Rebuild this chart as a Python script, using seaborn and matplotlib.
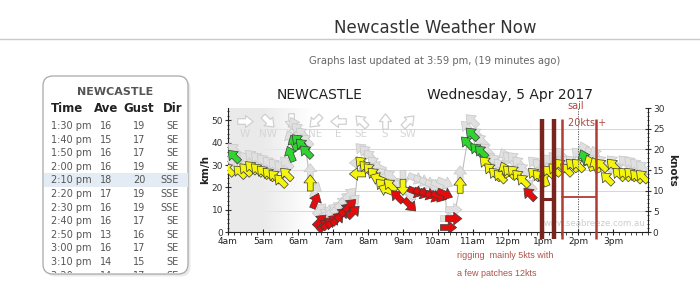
import numpy as np
import pandas as pd
import matplotlib
matplotlib.use("Agg")
import matplotlib.pyplot as plt
import seaborn as sns
from matplotlib.path import Path
from matplotlib.patches import FancyBboxPatch, Rectangle
from matplotlib.transforms import Affine2D, Bbox, TransformedBbox
from matplotlib.lines import Line2D

sns.set_theme(style="white")
plt.rcParams['font.family'] = ['DejaVu Sans']

# ---------------- data ----------------
times = ["04:00", "04:10", "04:20", "04:30", "04:40", "04:50", "05:00", "05:10", "05:20", "05:30", "05:40",
         "05:47", "05:53", "06:00", "06:07", "06:14", "06:21", "06:30", "06:38", "06:45", "06:52", "07:00",
         "07:08", "07:15", "07:22", "07:29", "07:35", "07:42", "07:49", "07:56", "08:03", "08:10", "08:17",
         "08:24", "08:31", "08:38", "08:50", "09:00", "09:12", "09:22", "09:32", "09:42", "09:52", "10:02",
         "10:12", "10:18", "10:27", "10:38", "10:50", "10:58", "11:06", "11:14", "11:22", "11:30", "11:38",
         "11:46", "11:54", "12:02", "12:10", "12:18", "12:26", "12:37", "12:45", "12:53", "13:02", "13:10",
         "13:20", "13:30", "13:40", "13:50", "14:00", "14:10", "14:20", "14:30", "14:40", "14:50", "15:00",
         "15:10", "15:20", "15:30", "15:40", "15:50"]
avg_kmh = [28, 34, 27, 28, 29, 28, 27, 26, 25, 23, 26,
           35, 40, 41, 39, 36, 22, 14, 5, 3, 4, 5,
           6, 8, 10, 12, 9, 26, 31, 29, 28, 26, 24,
           21, 19, 21, 16, 20, 12, 18, 17.5, 17, 16, 16,
           17, 2, 6, 21, 40, 44, 37, 36, 31, 28, 26,
           25, 28, 27, 27, 25, 23, 17, 26, 25, 24, 27,
           28, 30, 28, 30, 30, 33.5, 31, 30, 30, 24, 30,
           26, 26, 26, 25, 25]
gust_kmh = [33, 37, 33, 33, 34, 33, 32, 31, 30, 29, 31,
            42, 48, 46, 44, 41, 27, 19, 10, 8, 9, 10,
            11, 13, 15, 17, 14, 31, 37, 36, 34, 31, 29,
            26, 24, 25, 21, 24, 17, 24, 23, 22, 21, 21,
            22, 6, 10, 26, 47, 50, 44, 41, 37, 33, 32,
            30, 34, 33, 33, 31, 28, 21, 31, 30, 29, 32,
            33, 35, 31.5, 31.5, 35, 37, 35, 35, 31.5, 29.5, 31.5,
            28, 31.5, 31, 30, 29]
direction = ["SE", "SE", "SE", "SE", "SE", "SE", "SE", "SE", "SE", "SE", "SE",
             "SSE", "SSE", "SE", "SE", "SE", "S", "SSW", "SW", "SW", "SW", "SW",
             "SW", "SW", "SW", "SW", "SW", "E", "SE", "SE", "SE", "SE", "ESE",
             "SE", "ESE", "SE", "SE", "N", "NW", "WNW", "WNW", "WNW", "WNW", "WNW",
             "WNW", "W", "W", "S", "SE", "SE", "SE", "SE", "SE", "SE", "SE",
             "SE", "SSE", "SE", "SE", "SE", "SE", "SE", "SE", "SE", "SSE", "SE",
             "SE", "SE", "SE", "SE", "SE", "SSE", "SSE", "SSE", "SE", "SE", "SE",
             "SE", "SE", "SE", "SE", "SE"]

hour_ticks = [4, 5, 6, 7, 8, 9, 10, 11, 12, 13, 14, 15]
hour_labels = ["4am", "5am", "6am", "7am", "8am", "9am", "10am", "11am", "12pm", "1pm", "2pm", "3pm"]
kmh_ticks = [0, 10, 20, 30, 40, 50]
knot_ticks = [0, 5, 10, 15, 20, 25, 30]

table_time = ["1:30 pm", "1:40 pm", "1:50 pm", "2:00 pm", "2:10 pm", "2:20 pm", "2:30 pm", "2:40 pm",
              "2:50 pm", "3:00 pm", "3:10 pm", "3:20 pm"]
table_ave = [16, 15, 16, 16, 18, 17, 16, 16, 13, 16, 14, 14]
table_gust = [19, 17, 17, 19, 20, 19, 19, 17, 16, 17, 15, 17]
table_dir = ["SE", "SE", "SE", "SE", "SSE", "SSE", "SSE", "SE", "SE", "SE", "SE", "SE"]

compass_labels = ["W", "NW", "N", "NE", "E", "SE", "S", "SW"]

# annotation positions (hours)
sail_lines_thick = [12.96, 13.31]
sail_lines_thin = [13.53, 14.51]

# ---------------- helpers ----------------
points16 = ["N", "NNE", "NE", "ENE", "E", "ESE", "SE", "SSE", "S", "SSW", "SW", "WSW", "W", "WNW", "NW", "NNW"]
bearing = {p: i * 22.5 for i, p in enumerate(points16)}


def arrow_angle(d):
    return -90.0 - bearing[d]


def arrow_path(angle):
    base = np.array([(-1.0, -0.36), (0.0, -0.36), (0.0, -0.78), (1.0, 0.0),
                     (0.0, 0.78), (0.0, 0.36), (-1.0, 0.36), (-1.0, -0.36)])
    rot = Affine2D().rotate_deg(angle).transform(base)
    verts = np.vstack([[1.1, 1.1], [-1.1, -1.1], rot])
    codes = [Path.MOVETO, Path.MOVETO, Path.MOVETO] + [Path.LINETO] * 6 + [Path.CLOSEPOLY]
    return Path(verts, codes)


def to_hours(s):
    h, m = s.split(":")
    return int(h) + int(m) / 60.0


KT = 1.852
df = pd.DataFrame({"t": [to_hours(s) for s in times], "avg": avg_kmh, "gust": gust_kmh, "dir": direction})
df["band"] = np.where(df["avg"] < 18.5, "red", np.where(df["avg"] >= 33, "green", "yellow"))
markers = {d: arrow_path(arrow_angle(d)) for d in df["dir"].unique()}
palette = {"red": "#e30b0b", "yellow": "#f4f40c", "green": "#2fd42f"}
MS = 165

W, H = 700, 288
fig = plt.figure(figsize=(7.0, 2.88), dpi=100)
fig.patch.set_facecolor("white")


def fx(px):
    return px / W


def fy(py):
    return 1 - py / H


# ---------------- page header ----------------
fig.text(fx(435), fy(28), "Newcastle Weather Now", fontsize=12, color="#333333", ha="center", va="center")
fig.add_artist(Line2D([0, 1], [fy(39), fy(39)], color="#c3cbcb", lw=1.0))
fig.text(fx(435), fy(61), "Graphs last updated at 3:59 pm, (19 minutes ago)", fontsize=7.2,
         color="#666666", ha="center", va="center")

# ---------------- table ----------------
shadow = FancyBboxPatch((fx(45.5), fy(276.5)), fx(188 - 43), (274 - 76) / H,
                        boxstyle="round,pad=0,rounding_size=0.014", mutation_aspect=W / H,
                        transform=fig.transFigure, facecolor="#d9d9d9", edgecolor="none", alpha=0.55)
fig.add_artist(shadow)
box = FancyBboxPatch((fx(43), fy(274)), fx(188 - 43), (274 - 76) / H,
                     boxstyle="round,pad=0,rounding_size=0.014", mutation_aspect=W / H,
                     transform=fig.transFigure, facecolor="white", edgecolor="#a8a8a8", lw=0.9)
fig.add_artist(box)
hl = Rectangle((fx(43.5), fy(186.5)), fx(188 - 44), 13.5 / H, transform=fig.transFigure,
               facecolor="#e3ebf4", edgecolor="none")
fig.add_artist(hl)
clip_bb = TransformedBbox(Bbox([[fx(43), fy(272.5)], [fx(188), fy(76)]]), fig.transFigure)
fig.text(fx(115), fy(92), "NEWCASTLE", fontsize=8, fontweight="bold", color="#555555", ha="center", va="center")
for xx, lab, ha in [(51, "Time", "left"), (106, "Ave", "center"), (139, "Gust", "center"), (173, "Dir", "center")]:
    fig.text(fx(xx), fy(108.5), lab, fontsize=8.5, fontweight="bold", color="#222222", ha=ha, va="center")
for i in range(len(table_time)):
    yy = fy(126 + 13.6 * i)
    row = [fig.text(fx(51), yy, table_time[i], fontsize=7, color="#555555", ha="left", va="center"),
           fig.text(fx(106), yy, str(table_ave[i]), fontsize=7, color="#555555", ha="center", va="center"),
           fig.text(fx(139), yy, str(table_gust[i]), fontsize=7, color="#555555", ha="center", va="center"),
           fig.text(fx(179), yy, table_dir[i], fontsize=7, color="#555555", ha="right", va="center")]
    for tx in row:
        tx.set_clip_box(clip_bb)
        tx.set_clip_on(True)

# ---------------- chart ----------------
ax = fig.add_axes([fx(228), 56 / H, fx(420), 124 / H])
ax2 = ax.twinx()
ax.set_zorder(2)
ax.patch.set_visible(False)
ax2.set_zorder(1)
ax2.patch.set_facecolor("white")

ax.set_xlim(4, 16)
ax.set_ylim(0, 30 * KT)
ax2.set_ylim(0, 30)

# night shading gradient
grad = np.ones((1, 256, 4))
xs = np.linspace(0, 1, 256)
grad[0, :, :3] = 0.92
grad[0, :, 3] = np.clip((1 - xs) / 0.6, 0, 1)
ax.imshow(grad, extent=(4, 6.4, 0, 30 * KT), aspect="auto", zorder=0, interpolation="bilinear")

# grid on knots
for k in knot_ticks[1:-1]:
    ax2.axhline(k, color="#d6d6d6", lw=0.7, zorder=0)

# compass legend
for i, lab in enumerate(compass_labels):
    xa = 0.040 + i * 0.0555
    ax.scatter([xa], [0.895], marker=arrow_path(arrow_angle(lab)), s=150, facecolor="white",
               edgecolor="#d0d0d0", linewidths=0.9, transform=ax.transAxes, zorder=1)
    ax.text(xa, 0.79, lab, transform=ax.transAxes, fontsize=7.5, color="#d6d6d6", ha="center", va="center", zorder=1)

# connecting line
sns.lineplot(data=df, x="t", y="avg", color="#bdbdbd", lw=0.8, ax=ax, zorder=2, legend=False)
# gust shadows
sns.scatterplot(data=df, x="t", y="gust", style="dir", markers=markers, color="#e0e0e0",
                edgecolor="#c6c6c6", linewidth=0.5, s=MS, ax=ax, legend=False, zorder=3)
# average arrows
sns.scatterplot(data=df, x="t", y="avg", hue="band", palette=palette, style="dir", markers=markers,
                edgecolor="#3a3a3a", linewidth=0.5, s=MS, ax=ax, legend=False, zorder=4)

ax.text(13.03, 4.0, "www.seabreeze.com.au", fontsize=6.2, color="#cdcdcd", va="center", ha="left", zorder=1)

# axes styling
ax.set_xticks(hour_ticks)
ax.set_xticklabels(hour_labels)
ax.set_xticks(np.arange(4, 16.01, 1 / 6), minor=True)
ax.set_yticks(kmh_ticks)
ax.set_yticks(np.arange(0, 55, 2), minor=True)
ax2.set_yticks(knot_ticks)
ax2.set_yticks(np.arange(0, 30.1, 1), minor=True)
ax.set_xlabel("")
ax.set_ylabel("km/h", fontsize=7.5, fontweight="bold", color="#222222", labelpad=1)
ax2.set_ylabel("knots", fontsize=7.5, fontweight="bold", color="#222222", rotation=270, labelpad=9)
for a in (ax, ax2):
    for s in a.spines.values():
        s.set_visible(False)
ax.spines["left"].set_visible(True)
ax.spines["bottom"].set_visible(True)
ax2.spines["right"].set_visible(True)
for s in [ax.spines["left"], ax.spines["bottom"], ax2.spines["right"]]:
    s.set_color("#222222")
    s.set_linewidth(0.8)
ax.tick_params(axis="x", which="major", direction="inout", length=5, width=0.8, labelsize=6.5,
               colors="#222222", pad=1, bottom=True)
ax.tick_params(axis="x", which="minor", direction="out", length=2, width=0.6, bottom=True)
ax.tick_params(axis="y", which="major", direction="inout", length=5, width=0.8, labelsize=6.5,
               colors="#333333", pad=1, left=True)
ax.tick_params(axis="y", which="minor", direction="inout", length=2, width=0.6, left=True)
ax2.tick_params(axis="y", which="major", direction="inout", length=5, width=0.8, labelsize=6.5,
                colors="#333333", pad=1, right=True)
ax2.tick_params(axis="y", which="minor", direction="inout", length=2, width=0.6, right=True)
ax.grid(False)
ax2.grid(False)

# chart titles
fig.text(fx(320), fy(95), "NEWCASTLE", fontsize=10, color="#222222", ha="center", va="center")
fig.text(fx(510), fy(95), "Wednesday, 5 Apr 2017", fontsize=10, color="#222222", ha="center", va="center")

# annotations
ax.axvline(14.0, ymin=0, ymax=1.0, color="#444444", lw=0.6, ls=(0, (1.5, 1.5)), zorder=5)
y_top, y_bot = (232 - 118) / 2.26, (232 - 239) / 2.26
for xv in sail_lines_thick:
    ax.plot([xv, xv], [y_bot, y_top], color="#7a241e", lw=3.2, solid_capstyle="butt", clip_on=False, zorder=6)
for xv in sail_lines_thin:
    ax.plot([xv, xv], [y_bot, y_top], color="#b13c33", lw=1.8, solid_capstyle="butt", clip_on=False, zorder=6)
ax.plot(sail_lines_thick, [15.0, 15.0], color="#7a241e", lw=2.2, zorder=6)
ax.plot(sail_lines_thin, [15.5, 15.5], color="#b13c33", lw=1.3, zorder=6)

fig.text(fx(576), fy(106), "sail", fontsize=7, color="#b04a42", ha="center", va="center")
fig.text(fx(568), fy(123), "20kts +", fontsize=7, color="#b04a42", ha="left", va="center")
fig.text(fx(457), fy(255), "rigging  mainly 5kts with", fontsize=6.5, color="#b0524a", ha="left", va="center",
         family="Liberation Sans")
fig.text(fx(457), fy(273), "a few patches 12kts", fontsize=6.5, color="#b0524a", ha="left", va="center",
         family="Liberation Sans")

fig.savefig("out.png", dpi=100, facecolor="white")
